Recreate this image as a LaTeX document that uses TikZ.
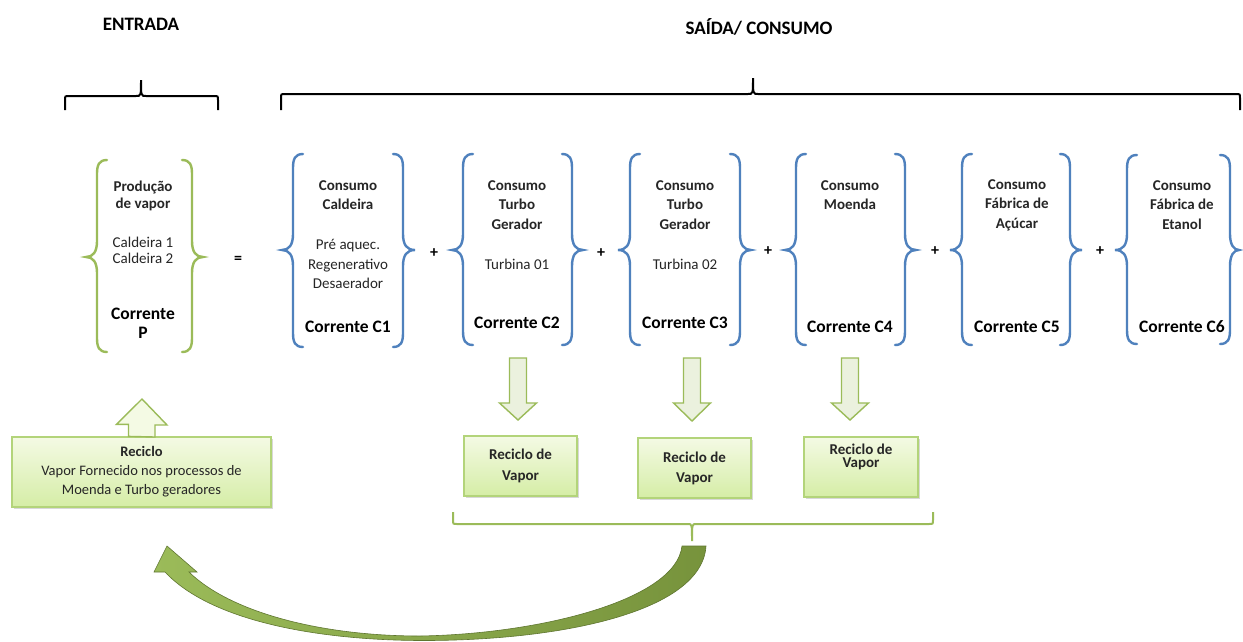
\documentclass[tikz,border=0pt]{standalone}
\usepackage{fontspec}
\setmainfont{Carlito}
\usetikzlibrary{shadows}
\definecolor{bbl}{HTML}{4F81BD}
\definecolor{grn}{HTML}{9BBB59}
\definecolor{dgrn}{HTML}{77933C}
\definecolor{pale}{HTML}{EBF1DE}
\definecolor{boxtop}{HTML}{F4FAE4}
\definecolor{boxbot}{HTML}{D5EDA6}
\definecolor{boxline}{HTML}{B3D47A}
\definecolor{txt}{HTML}{262626}
\newcommand\BraceL[5]{(#1+10,#3) .. controls (#1+2,#3) and (#1,#3+5) .. (#1,#3+14) -- (#1,#4-16) .. controls (#1,#4-5) and (#1-4,#4) .. (#2,#4) .. controls (#1-4,#4) and (#1,#4+5) .. (#1,#4+16) -- (#1,#5-14) .. controls (#1,#5-5) and (#1+2,#5) .. (#1+10,#5)}
\newcommand\BraceR[5]{(#1-10,#3) .. controls (#1-2,#3) and (#1,#3+5) .. (#1,#3+14) -- (#1,#4-16) .. controls (#1,#4-5) and (#1+4,#4) .. (#2,#4) .. controls (#1+4,#4) and (#1,#4+5) .. (#1,#4+16) -- (#1,#5-14) .. controls (#1,#5-5) and (#1-2,#5) .. (#1-10,#5)}
\begin{document}
\begin{tikzpicture}[x=1pt,y=-1pt,
  bluebr/.style={draw=bbl,line width=2.4pt,line cap=round},
  greenbr/.style={draw=grn,line width=2.4pt,line cap=round},
  topbr/.style={draw=black,line width=2pt},
  headtxt/.style={font=\bfseries\fontsize{19}{22}\selectfont,text=black},
  colttl/.style={font=\bfseries\fontsize{15}{19.5}\selectfont,align=center,text=txt,inner sep=0pt},
  colbody/.style={font=\fontsize{15}{19.5}\selectfont,align=center,text=txt,inner sep=0pt},
  colcorr/.style={font=\bfseries\fontsize{17.5}{19}\selectfont,align=center,text=black,inner sep=0pt},
  signtxt/.style={font=\bfseries\fontsize{16}{18}\selectfont,text=black,inner sep=0pt},
  recbox/.style={draw=boxline,line width=1.2pt,top color=boxtop,bottom color=boxbot,
    drop shadow={shadow xshift=1.5pt,shadow yshift=-1.5pt,opacity=0.3},
    align=center,text=txt,inner sep=0pt},
  blockarr/.style={draw=grn,line width=1.4pt,fill=pale,line join=miter}
]
\useasboundingbox (0,0) rectangle (1243,641);
\fill[white] (0,0) rectangle (1243,641);

% headers
\node[headtxt] (hin) at (141,24) {ENTRADA};
\node[headtxt] (hout) at (759,27) {SAÍDA/ CONSUMO};

% top braces
\draw[topbr] (65,110) -- (65,100) .. controls (65,96) .. (69,96) -- (136,96) .. controls (141,96) .. (141,80) .. controls (141,96) .. (146,96) -- (214,96) .. controls (218,96) .. (218,100) -- (218,110);
\draw[topbr] (281,110) -- (281,98) .. controls (281,94) .. (285,94) -- (748,94) .. controls (753,94) .. (753,78) .. controls (753,94) .. (758,94) -- (1236,94) .. controls (1240,94) .. (1240,98) -- (1240,110);

% P braces
\draw[greenbr] \BraceL{97}{86}{160}{257}{352};
\draw[greenbr] \BraceR{192}{203}{160}{257}{352};
\node[colttl,font=\bfseries\fontsize{15}{17}\selectfont] (pt) at (143,196) {Produção\\de vapor};
\node[colbody,font=\fontsize{15}{16}\selectfont] (pb) at (143,250) {Caldeira 1\\Caldeira 2};
\node[colcorr] (pc) at (143,323) {Corrente\\P};

\node[signtxt] (eq) at (238,260) {=};

% C1
\draw[bluebr] \BraceL{293}{282}{154}{250}{347};
\draw[bluebr] \BraceR{403}{415}{154}{250}{347};
\node[colttl] (c1t) at (348,195) {Consumo\\Caldeira};
\node[colbody] (c1b) at (348,264) {Pré aquec.\\Regenerativo\\Desaerador};
\node[colcorr] (c1c) at (348,327) {Corrente C1};

\node[signtxt] (s1) at (434,253) {+};

% C2
\draw[bluebr] \BraceL{463}{452}{154}{250}{345};
\draw[bluebr] \BraceR{572}{583}{154}{250}{345};
\node[colttl] (c2t) at (517,205) {Consumo\\Turbo\\Gerador};
\node[colbody] (c2b) at (517,264) {Turbina 01};
\node[colcorr] (c2c) at (517,323) {Corrente C2};

\node[signtxt] (s2) at (601,253) {+};

% C3
\draw[bluebr] \BraceL{630}{618}{154}{250}{345};
\draw[bluebr] \BraceR{740}{751}{154}{250}{345};
\node[colttl] (c3t) at (685,205) {Consumo\\Turbo\\Gerador};
\node[colbody] (c3b) at (685,264) {Turbina 02};
\node[colcorr] (c3c) at (685,323) {Corrente C3};

\node[signtxt] (s3) at (768,251) {+};

% C4
\draw[bluebr] \BraceL{796}{785}{154}{250}{345};
\draw[bluebr] \BraceR{905}{916}{154}{250}{345};
\node[colttl] (c4t) at (850,195) {Consumo\\Moenda};
\node[colcorr] (c4c) at (850,327) {Corrente C4};

\node[signtxt] (s4) at (935,251) {+};

% C5
\draw[bluebr] \BraceL{962}{950}{154}{250}{345};
\draw[bluebr] \BraceR{1070}{1082}{154}{250}{345};
\node[colttl] (c5t) at (1017,205) {Consumo\\Fábrica de\\Açúcar};
\node[colcorr] (c5c) at (1017,327) {Corrente C5};

\node[signtxt] (s5) at (1100,251) {+};

% C6
\draw[bluebr] \BraceL{1127}{1115}{155}{250}{344};
\draw[bluebr] \BraceR{1230}{1239}{155}{250}{344};
\node[colttl] (c6t) at (1182,205) {Consumo\\Fábrica de\\Etanol};
\node[colcorr] (c6c) at (1182,327) {Corrente C6};

% down block arrows
\foreach \cx/\tp in {518/420,692/421,850/420}{
  \draw[blockarr] (\cx-8.5,358) -- (\cx+8.5,358) -- (\cx+8.5,403) -- (\cx+18.5,403) -- (\cx,\tp) -- (\cx-18.5,403) -- (\cx-8.5,403) -- cycle;
}

% recycle boxes
\node[recbox,minimum width=113pt,minimum height=60pt,font=\bfseries\fontsize{15}{21}\selectfont] (b1) at (520.5,466) {Reciclo de\\Vapor};
\node[recbox,minimum width=113pt,minimum height=60pt,font=\bfseries\fontsize{15}{20}\selectfont] (b2) at (694.5,468) {Reciclo de\\Vapor};
\node[recbox,minimum width=114pt,minimum height=60pt] (b3) at (861,467) {};
\node[colttl,font=\bfseries\fontsize{15}{13.5}\selectfont] (b3t) at (861,457) {Reciclo de\\Vapor};

% bottom green brace
\draw[draw=grn,line width=2pt] (453,512) -- (453,520) .. controls (453,524) .. (457,524) -- (688,524) .. controls (692,524) .. (692,541) .. controls (692,524) .. (696,524) -- (929,524) .. controls (933,524) .. (933,520) -- (933,512);

% left recycle box and up arrow
\node[recbox,minimum width=259pt,minimum height=70pt,font=\fontsize{14.5}{19}\selectfont] (rb) at (141.5,472) {\textbf{Reciclo}\\Vapor Fornecido nos processos de\\Moenda e Turbo geradores};
\draw[blockarr,fill=boxtop] (rb.north) ++(-13,0) -- ++(0,-12) -- ++(-12,0) -- (142,399) -- (167,425) -- (155,425) -- (155,437) -- cycle;

% curved return arrow
\shade[left color=grn,right color=dgrn,draw=dgrn!80!black,line width=0.6pt]
  (167,546) -- (197,572) -- (189,572)
  .. controls (230,612) and (320,636) .. (420,636)
  .. controls (540,634) and (676,600) .. (682,546)
  -- (706,546)
  .. controls (702,612) and (560,641) .. (420,640.5)
  .. controls (320,640) and (212,622) .. (165,572)
  -- (154,572) -- cycle;
\end{tikzpicture}
\end{document}
